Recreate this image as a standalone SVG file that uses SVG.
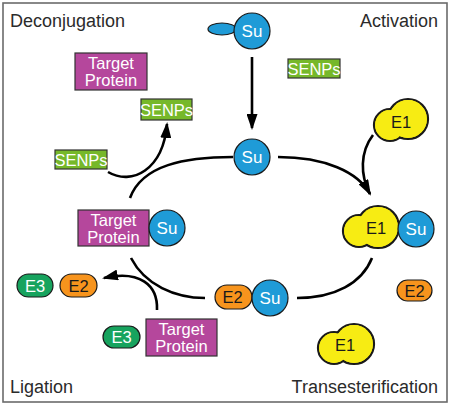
<svg xmlns="http://www.w3.org/2000/svg" width="450" height="407" viewBox="0 0 450 407">
<defs>
<style>
.lbl{font-family:"Liberation Sans",Arial,sans-serif;font-size:18px;fill:#2b2b2b}
.t{font-family:"Liberation Sans",Arial,sans-serif;font-size:16.5px;text-anchor:middle}
.s{font-size:17px}
.w{fill:#fff}
.k{fill:#1a1a1a}
.su{fill:#1f9bd7;stroke:#1a1a1a;stroke-width:1.2}
.e1{fill:#f7ec13;stroke:#1a1a1a;stroke-width:2.2}
.e1f{fill:#f7ec13}
.e2{fill:#f7941d;stroke:#1a1a1a;stroke-width:1.2}
.e3{fill:#17a35e;stroke:#1a1a1a;stroke-width:1.2}
.tp{fill:#b5479c;stroke:#333;stroke-width:1.2}
.sn{fill:#76b82a;stroke:#333;stroke-width:1.2}
.c{fill:none;stroke:#000;stroke-width:2.6}
</style>
<marker id="ah" viewBox="0 0 16 11" markerWidth="16" markerHeight="11" refX="14" refY="5.5" orient="auto" markerUnits="userSpaceOnUse">
<path d="M0,0 L16,5.5 L0,11 z" fill="#000"/>
</marker>
</defs>
<rect x="3" y="3" width="444" height="399" fill="#fff" stroke="#6b6b6b" stroke-width="1.6"/>
<g id="labels">
<text class="lbl" x="10" y="27">Deconjugation</text>
<text class="lbl" x="438" y="27" text-anchor="end">Activation</text>
<text class="lbl" x="10" y="393">Ligation</text>
<text class="lbl" x="438" y="393" text-anchor="end">Transesterification</text>
</g>
<g id="connectors">
<path class="c" d="M252,57 L252,128" marker-end="url(#ah)"/>
<path class="c" d="M373,135 C360,152 360,175 370,194"/>
<path class="c" d="M278,157 C325,157 358,172 370,194" marker-end="url(#ah)"/>
<path class="c" d="M372,258 C362,283 335,298 297,298"/>
<path class="c" d="M205,298 C175,298 145,285 131,258"/>
<path class="c" d="M157,310 C158,285 140,270 104,278" marker-end="url(#ah)"/>
<path class="c" d="M130,198 C142,165 185,157 233,157"/>
<path class="c" d="M108,172 C132,186 163,170 167,124" marker-end="url(#ah)"/>
</g>
<g id="su-free">
<ellipse class="su" cx="222" cy="29" rx="14" ry="6"/>
<circle class="su" cx="252" cy="31" r="18"/>
<text class="t s w" x="252" y="37">Su</text>
</g>
<g id="senps-activation">
<rect class="sn" x="288" y="59" width="52" height="19"/>
<text class="t w" x="314" y="75">SENPs</text>
</g>
<g id="e1-activation">
<circle class="e1" cx="390" cy="125" r="16"/>
<circle class="e1" cx="408" cy="119" r="20"/>
<circle class="e1f" cx="390" cy="125" r="14.9"/>
<circle class="e1f" cx="408" cy="119" r="18.9"/>
<text class="t k" x="401" y="127.5">E1</text>
</g>
<g id="su-mid">
<circle class="su" cx="252" cy="157" r="18"/>
<text class="t s w" x="252" y="163">Su</text>
</g>
<g id="e1-su">
<circle class="e1" cx="359" cy="231" r="16"/>
<circle class="e1" cx="378" cy="227" r="21"/>
<circle class="e1f" cx="359" cy="231" r="14.9"/>
<circle class="e1f" cx="378" cy="227" r="19.9"/>
<text class="t k" x="376" y="233.5">E1</text>
<circle class="su" cx="416" cy="229" r="18"/>
<text class="t s w" x="416" y="235">Su</text>
</g>
<g id="e2-free">
<rect class="e2" x="397" y="280" width="35" height="21" rx="10.5"/>
<text class="t k" x="414.5" y="296.5">E2</text>
</g>
<g id="e1-free">
<circle class="e1" cx="334" cy="348" r="16"/>
<circle class="e1" cx="354" cy="344" r="20"/>
<circle class="e1f" cx="334" cy="348" r="14.9"/>
<circle class="e1f" cx="354" cy="344" r="18.9"/>
<text class="t k" x="345" y="350.5">E1</text>
</g>
<g id="e2-su">
<rect class="e2" x="215" y="285" width="37" height="24" rx="12"/>
<text class="t k" x="232.5" y="303">E2</text>
<circle class="su" cx="270" cy="298" r="18"/>
<text class="t s w" x="270" y="304">Su</text>
</g>
<g id="target-e3">
<rect class="e3" x="103" y="326" width="37" height="22" rx="11"/>
<text class="t w" x="121.5" y="343">E3</text>
<rect class="tp" x="146" y="319" width="71" height="37"/>
<text class="t w" x="181.5" y="334.5">Target</text>
<text class="t w" x="181.5" y="351.5">Protein</text>
</g>
<g id="e3-e2">
<rect class="e3" x="17" y="274" width="36" height="23" rx="11.5"/>
<text class="t w" x="35" y="291.5">E3</text>
<rect class="e2" x="60" y="274" width="37" height="23" rx="11.5"/>
<text class="t k" x="78.5" y="291.5">E2</text>
</g>
<g id="target-su">
<rect class="tp" x="78" y="210" width="71" height="36"/>
<text class="t w" x="113.5" y="225.5">Target</text>
<text class="t w" x="113.5" y="242.5">Protein</text>
<circle class="su" cx="167" cy="228" r="18"/>
<text class="t s w" x="167" y="234">Su</text>
</g>
<g id="senps-left">
<rect class="sn" x="55" y="150" width="52" height="19"/>
<text class="t w" x="81" y="166">SENPs</text>
</g>
<g id="senps-top">
<rect class="sn" x="141" y="99" width="51" height="21"/>
<text class="t w" x="166.5" y="116">SENPs</text>
</g>
<g id="target-free">
<rect class="tp" x="75" y="53" width="72" height="37"/>
<text class="t w" x="111" y="68.5">Target</text>
<text class="t w" x="111" y="85.5">Protein</text>
</g>
</svg>
